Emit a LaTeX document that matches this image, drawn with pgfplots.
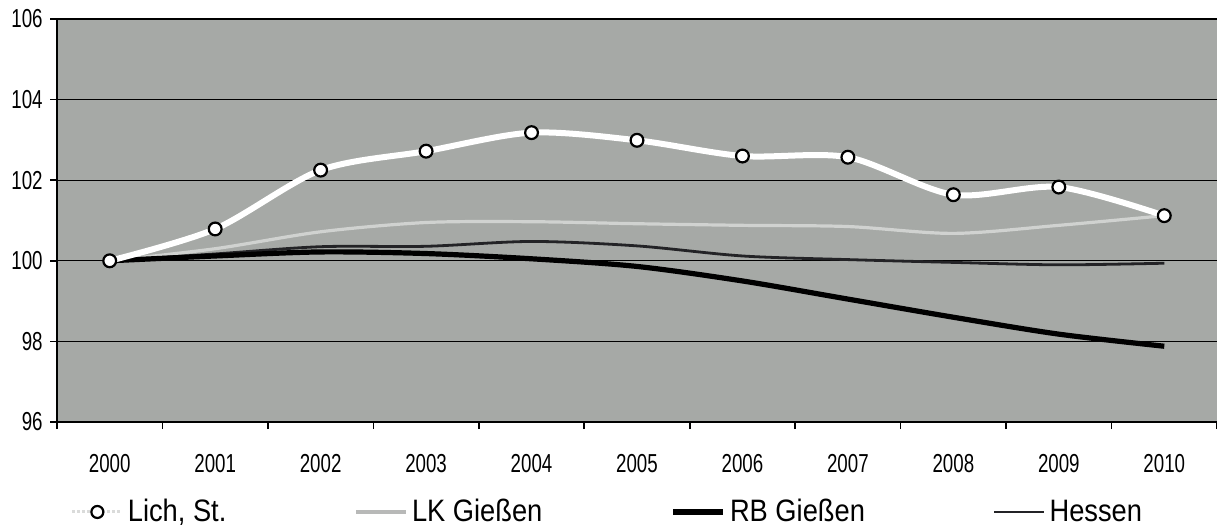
\documentclass[border=0pt]{standalone}
\usepackage{fontspec}
\setmainfont{Liberation Sans}
\newfontfamily\tickfont[FakeStretch=0.72]{Liberation Sans}
\newfontfamily\legfont[FakeStretch=0.88]{Liberation Sans}
\usepackage{pgfplots}
\pgfplotsset{compat=1.18}

\definecolor{plotbg}{RGB}{166,169,166}
\definecolor{lkgrey}{RGB}{208,210,208}
\definecolor{hessen}{RGB}{35,35,38}

\begin{document}
\begin{tikzpicture}
\useasboundingbox (-28.5pt,-54.5pt) rectangle (580pt,211pt);
\begin{axis}[
    scale only axis,
    width=580pt, height=201.5pt,
    xmin=-0.5, xmax=10.5,
    ymin=96, ymax=106,
    ytick={96,98,...,106},
    xtick={-0.5,0.5,...,10.5},
    x tick label as interval,
    xticklabels={2000,2001,2002,2003,2004,2005,2006,2007,2008,2009,2010},
    axis x line*=bottom,
    axis y line*=left,
    axis line style={black, line width=0.8pt, -},
    axis background/.style={fill=plotbg},
    ymajorgrids,
    grid style={black, line width=0.6pt},
    tick align=outside,
    major tick length=3.5pt,
    tick style={black, line width=0.8pt},
    /pgf/number format/assume math mode=true,
    ticklabel style={font=\tickfont\fontsize{13}{13}\selectfont},
    xticklabel style={anchor=base, yshift=-21.5pt},
    yticklabel style={anchor=east, inner sep=0pt, xshift=-3.5pt},
    legend columns=4,
    legend style={at={(0.4754,-0.2233)}, anchor=center, draw=none, fill=none,
        font=\legfont\fontsize{15.5}{15.5}\selectfont,
        /tikz/every even column/.append style={column sep=62pt},
        inner sep=0pt},
    legend cell align=left,
    legend image code/.code={
        \draw[mark repeat=2,mark phase=2,#1]
            plot coordinates {(0pt,0pt) (12.5pt,0pt) (25pt,0pt)};},
]
% legend order as in the reference
\addlegendimage{lkgrey!80, densely dotted, line width=1.5pt, mark=*, mark size=3pt,
    mark options={solid, fill=white, draw=black, line width=1.1pt}}
\addlegendentry{Lich, St.}
\addlegendimage{lkgrey!70!gray, line width=1.8pt}
\addlegendentry{LK Gießen}
\addlegendimage{black, line width=2.8pt}
\addlegendentry{RB Gießen}
\addlegendimage{hessen, line width=1.3pt}
\addlegendentry{Hessen}

% LK Gießen
\addplot[forget plot, lkgrey, line width=1.6pt, smooth, tension=0.5] coordinates {
    (0,100) (1,100.30) (2,100.72) (3,100.95) (4,100.97) (5,100.92)
    (6,100.88) (7,100.85) (8,100.68) (9,100.88) (10,101.12)
};
% Hessen
\addplot[forget plot, hessen, line width=1.4pt, smooth, tension=0.5] coordinates {
    (0,100) (1,100.17) (2,100.35) (3,100.36) (4,100.48) (5,100.37)
    (6,100.12) (7,100.03) (8,99.96) (9,99.90) (10,99.94)
};
% RB Gießen
\addplot[forget plot, black, line width=2.6pt, smooth, tension=0.5] coordinates {
    (0,100) (1,100.12) (2,100.22) (3,100.18) (4,100.05) (5,99.86)
    (6,99.50) (7,99.05) (8,98.60) (9,98.18) (10,97.88)
};
% Lich, St.
\addplot[forget plot, white, line width=3pt, smooth, tension=0.5,
    mark=*, mark size=3.2pt, mark options={fill=white, draw=black, line width=1.1pt}] coordinates {
    (0,100) (1,100.79) (2,102.25) (3,102.72) (4,103.18) (5,102.99)
    (6,102.60) (7,102.57) (8,101.64) (9,101.83) (10,101.12)
};
\end{axis}
\end{tikzpicture}
\end{document}
